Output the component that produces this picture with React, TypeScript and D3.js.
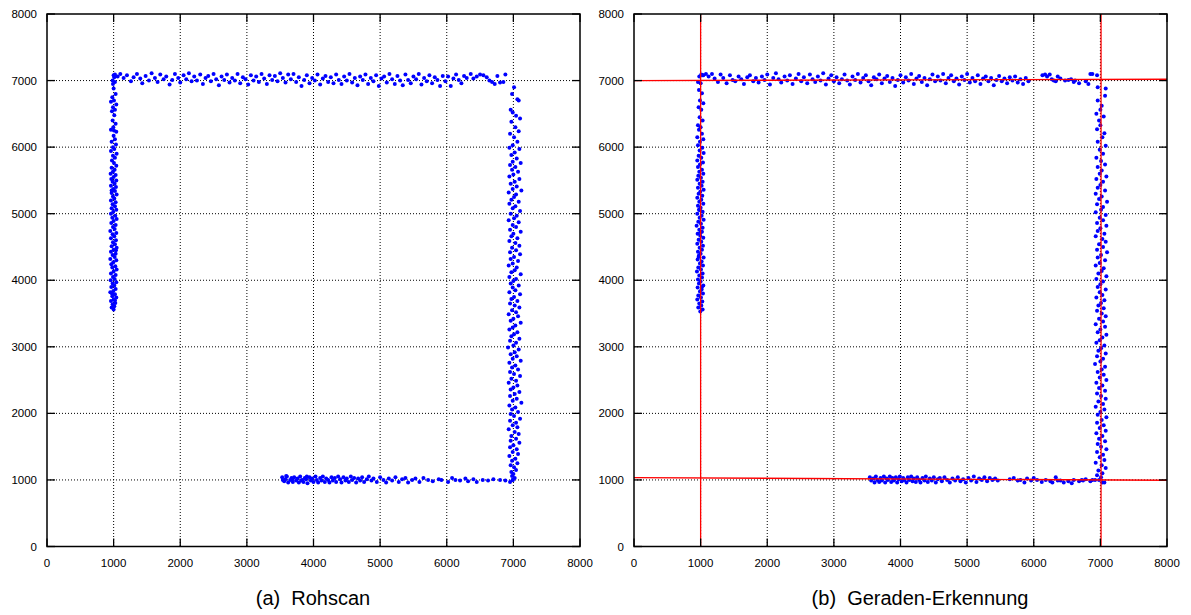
import React from "react";
import * as d3 from "d3";

// ---------- DATA ----------
const ticks = [0, 1000, 2000, 3000, 4000, 5000, 6000, 7000, 8000];
const captions = ["(a)  Rohscan", "(b)  Geraden-Erkennung"];

// Panel (a) Rohscan
const aLeft: [number, number][] = [
[1000,7080],[1010,7050],[985,7000],[1020,6980],[990,6950],[1000,6880],[1030,6800],[980,6750],[1005,6700],[960,6680],[1040,6640],[990,6600],[1020,6560],[975,6540],[1010,6480],[985,6400],[1030,6350],[995,6300],[960,6260],[1040,6230],[1000,6170],[1020,6120],[970,6080],[1035,6040],[990,6000],[1010,5970],[960,5940],[1045,5900],[990,5870],[1020,5840],[975,5800],[1005,5760],[1040,5720],[970,5690],[1015,5660],[990,5630],[955,5600],[1030,5580],[1000,5550],[965,5520],[1040,5500],[985,5480],[1015,5450],[960,5420],[1035,5400],[995,5370],[1020,5340],[970,5310],[1045,5290],[990,5260],[1010,5230],[960,5200],[1030,5170],[985,5140],[1020,5110],[970,5080],[1040,5060],[995,5030],[960,5000],[1025,4970],[980,4940],[1045,4920],[1000,4890],[965,4860],[1030,4830],[990,4800],[1015,4770],[950,4740],[1040,4710],[985,4690],[1010,4660],[960,4630],[1035,4600],[990,4570],[1020,4540],[970,4510],[1045,4490],[1000,4460],[960,4430],[1030,4400],[985,4380],[1015,4350],[950,4320],[1040,4300],[995,4270],[965,4240],[1025,4210],[980,4190],[1045,4160],[1000,4130],[960,4100],[1030,4080],[990,4050],[1015,4020],[955,4000],[1040,3970],[985,3950],[1010,3920],[965,3900],[1030,3870],[995,3840],[950,3820],[1020,3790],[980,3760],[1040,3740],[1000,3710],[960,3690],[1025,3660],[985,3640],[1010,3610],[970,3590],[1000,3560],[1020,3700],[975,3800],[1035,4450],[970,5350],[1005,6250]
];
const aTop: [number, number][] = [
[1020,7090],[1060,7060],[1100,7100],[1150,7040],[1200,7080],[1260,6990],[1300,7050],[1350,7100],[1400,7030],[1430,6960],[1480,7070],[1530,7000],[1570,7110],[1620,7040],[1660,6980],[1700,7090],[1750,7020],[1790,7060],[1840,6940],[1880,7010],[1920,7100],[1970,7040],[2000,6970],[2050,7080],[2090,7020],[2130,7110],[2170,6990],[2210,7060],[2250,7000],[2300,7090],[2340,6950],[2380,7040],[2420,7070],[2460,6990],[2500,7100],[2540,7020],[2580,6930],[2620,7060],[2660,7010],[2700,7090],[2740,6970],[2780,7040],[2820,7000],[2860,7100],[2900,6960],[2940,7050],[2980,7020],[3020,6940],[3060,7080],[3100,7000],[3140,7060],[3180,6980],[3220,7100],[3260,7030],[3300,6950],[3340,7080],[3380,7010],[3420,7070],[3460,6990],[3500,7110],[3540,7040],[3580,6970],[3620,7090],[3660,7020],[3700,7100],[3740,6980],[3780,7050],[3820,6920],[3860,7010],[3900,7080],[3940,6960],[3980,7040],[4020,7000],[4060,7090],[4100,6940],[4140,7030],[4180,7070],[4220,6980],[4260,7050],[4300,6960],[4340,7090],[4380,7010],[4420,6950],[4460,7060],[4500,7000],[4540,7100],[4580,6970],[4620,7040],[4660,6930],[4700,7060],[4740,7010],[4780,7090],[4820,6950],[4860,7040],[4900,6990],[4940,7080],[4980,6920],[5020,7030],[5060,7060],[5100,6970],[5140,7100],[5180,7020],[5220,6950],[5260,7070],[5300,7000],[5340,6930],[5380,7090],[5420,7010],[5460,6960],[5500,7060],[5540,7020],[5580,7100],[5620,6940],[5660,7040],[5700,6990],[5740,7080],[5780,6960],[5820,7050],[5860,7010],[5900,6920],[5940,7070],[5980,6990],[6020,7060],[6060,6920],[6100,7030],[6140,7090],[6180,7010],[6220,6960],[6260,7070],[6300,7040],[6360,7100],[6400,7030],[6450,7060],[6500,7090],[6550,7080],[6600,7050],[6640,7000],[6680,6980],[6720,6950],[6760,7070],[6800,6970],[6850,6980],[6880,7090]
];
const aRight: [number, number][] = [
[7010,6900],[6980,6800],[7060,6720],[7080,6700],[6960,6560],[6990,6520],[7040,6470],[7100,6430],[6970,6380],[7030,6300],[7080,6240],[6950,6200],[7010,6150],[7060,6080],[6990,6030],[6940,5990],[7090,5970],[7020,5920],[6970,5880],[7050,5830],[6990,5780],[7110,5760],[6950,5730],[7030,5700],[6980,5660],[7070,5630],[7000,5590],[6940,5560],[7090,5520],[7020,5480],[6960,5450],[7050,5410],[6990,5370],[7120,5350],[6930,5320],[7040,5290],[7010,5250],[6970,5210],[7080,5180],[6940,5150],[7030,5110],[6990,5080],[7100,5040],[6960,5000],[7050,4970],[7010,4930],[6930,4900],[7080,4870],[6990,4830],[7040,4800],[6950,4760],[7110,4730],[7000,4700],[6970,4660],[7060,4630],[6940,4590],[7030,4560],[7090,4520],[6980,4490],[7040,4450],[6950,4420],[7100,4390],[7010,4350],[6960,4320],[7070,4290],[6990,4250],[6930,4220],[7050,4190],[7020,4150],[6970,4120],[7110,4090],[6940,4050],[7040,4020],[7000,3990],[6960,3950],[7080,3920],[6990,3890],[7030,3850],[6940,3820],[7100,3790],[7010,3750],[6970,3720],[7060,3690],[6950,3650],[7020,3620],[7090,3590],[6980,3550],[7040,3520],[6930,3490],[7070,3460],[7000,3420],[6960,3390],[7110,3360],[7030,3320],[6990,3290],[6940,3260],[7060,3220],[7010,3190],[6970,3160],[7090,3120],[6950,3090],[7040,3060],[7000,3020],[6920,2990],[7080,2960],[7020,2920],[6960,2890],[7050,2860],[6990,2820],[7110,2790],[6940,2760],[7030,2720],[6980,2690],[7070,2660],[6950,2620],[7010,2590],[7100,2560],[6970,2520],[7040,2490],[6930,2460],[7060,2420],[7000,2390],[6960,2360],[7090,2320],[7020,2290],[6950,2260],[7050,2220],[6990,2190],[7120,2160],[6940,2120],[7030,2090],[6980,2060],[7070,2020],[6960,1990],[7010,1960],[7100,1920],[6950,1890],[7040,1860],[6990,1820],[7060,1790],[6930,1760],[7020,1720],[7080,1690],[6970,1660],[7040,1620],[6960,1590],[7090,1560],[7000,1520],[6950,1490],[7050,1460],[6990,1420],[7070,1390],[6940,1360],[7030,1320],[6980,1290],[7060,1250],[6960,1220],[7010,1190],[7040,1150],[6970,1120],[7000,1090],[6980,1060],[7020,1030],[6990,1000]
];
const aBottom: [number, number][] = [
[3530,1040],[3560,980],[3580,1010],[3600,1050],[3620,960],[3650,1000],[3670,1030],[3690,970],[3710,1040],[3740,990],[3760,1020],[3780,960],[3800,1050],[3830,1000],[3850,970],[3870,1030],[3890,1010],[3910,950],[3940,1040],[3960,990],[3980,1020],[4000,970],[4030,1050],[4050,1000],[4070,960],[4100,1030],[4120,990],[4140,1050],[4170,970],[4190,1020],[4220,1000],[4240,960],[4270,1040],[4290,990],[4320,1030],[4340,970],[4370,1050],[4400,1010],[4420,960],[4450,1040],[4480,990],[4500,1020],[4530,970],[4560,1050],[4580,1000],[4610,1030],[4640,960],[4670,1020],[4700,990],[4730,1040],[4760,970],[4800,1010],[4830,1050],[4870,990],[4900,1020],[4950,970],[5000,1040],[5050,1000],[5090,960],[5130,1020],[5180,990],[5230,1040],[5280,970],[5330,1010],[5380,1030],[5420,960],[5480,1000],[5530,1020],[5590,970],[5650,1030],[5720,1000],[5790,980],[5880,1010],[5920,1000],[6020,970],[6080,1030],[6130,1000],[6200,990],[6280,1020],[6320,980],[6400,1010],[6450,970],[6540,1000],[6620,990],[6700,1010],[6800,1000],[6880,990],[6950,970],[6990,1000],[3540,1000],[3590,1060],[3680,1010],[3820,990],[3900,1050]
];

// Panel (b) Geraden-Erkennung
const bLeft: [number, number][] = [
[1010,7090],[980,7060],[1030,7080],[960,6980],[1000,6960],[975,6860],[1020,6810],[990,6700],[1040,6660],[970,6600],[1010,6560],[985,6450],[1030,6400],[960,6330],[1000,6300],[975,6260],[1020,6200],[950,6150],[1040,6120],[990,6080],[960,6030],[1025,5990],[985,5950],[1045,5910],[970,5870],[1010,5840],[950,5800],[1035,5770],[990,5740],[960,5700],[1020,5660],[980,5630],[1040,5600],[965,5570],[1005,5540],[950,5510],[1030,5480],[985,5450],[1015,5420],[960,5390],[1045,5360],[995,5330],[970,5300],[1025,5270],[950,5240],[1010,5210],[980,5180],[1040,5150],[960,5120],[1000,5090],[975,5060],[1030,5030],[950,5000],[1015,4970],[985,4940],[1045,4910],[965,4880],[1005,4850],[940,4820],[1030,4790],[980,4760],[1020,4730],[955,4700],[995,4670],[1040,4640],[970,4610],[1010,4580],[950,4550],[1035,4520],[985,4490],[1020,4460],[960,4430],[1000,4400],[975,4370],[1045,4340],[955,4310],[1015,4280],[990,4250],[1035,4220],[965,4190],[1005,4160],[945,4130],[1030,4100],[980,4070],[1020,4040],[960,4010],[1000,3980],[975,3950],[1040,3920],[955,3890],[1015,3860],[990,3830],[1035,3800],[965,3770],[1005,3740],[950,3710],[1025,3680],[980,3650],[1010,3620],[965,3590],[1030,3560],[995,3530],[1000,4720],[970,4350],[1020,3900],[990,5050]
];
const bTop: [number, number][] = [
[1040,7080],[1080,7100],[1120,7060],[1170,7100],[1210,7030],[1260,6980],[1300,7090],[1340,7040],[1390,6960],[1440,7080],[1480,7010],[1520,6990],[1570,7060],[1610,7020],[1650,6950],[1700,7050],[1740,7080],[1790,6990],[1830,7040],[1870,6970],[1920,7060],[1960,7010],[2000,7090],[2040,6940],[2090,7040],[2130,7110],[2170,7020],[2210,6970],[2260,7060],[2300,7000],[2340,7080],[2380,6950],[2430,7030],[2470,7100],[2510,6990],[2550,7050],[2600,6960],[2640,7090],[2680,7020],[2720,6980],[2760,7060],[2800,7000],[2840,7110],[2880,6940],[2920,7030],[2960,7080],[3000,6990],[3040,7050],[3080,6960],[3120,7020],[3160,7090],[3200,7000],[3240,6940],[3280,7060],[3320,7010],[3360,7100],[3400,6970],[3440,7040],[3480,7080],[3520,6990],[3560,6930],[3600,7050],[3640,7020],[3680,7090],[3720,6960],[3760,7030],[3800,7070],[3840,6980],[3880,7040],[3920,6920],[3960,7010],[4000,7080],[4040,6970],[4080,7050],[4120,7000],[4160,7100],[4200,6950],[4240,7030],[4280,7070],[4320,6980],[4360,7040],[4400,6930],[4440,7020],[4480,7090],[4520,6990],[4560,7060],[4600,7000],[4640,7100],[4680,6960],[4720,7040],[4760,7080],[4800,6990],[4840,7030],[4880,6940],[4920,7060],[4960,7010],[5000,7100],[5040,6970],[5080,7040],[5120,6990],[5160,7080],[5200,6950],[5240,7030],[5280,7060],[5320,6990],[5360,7040],[5400,6930],[5440,7010],[5480,7070],[5520,6990],[5560,7030],[5600,6960],[5640,7050],[5680,7000],[5720,7060],[5760,6970],[5800,7020],[5840,6950],[5880,7040],[5920,6990],[6130,7080],[6170,7090],[6200,7060],[6240,7090],[6270,7020],[6300,7000],[6330,6990],[6360,7060],[6400,7030],[6470,7000],[6520,7010],[6560,7020],[6600,6980],[6620,7000],[6680,6960],[6780,6990],[6820,6950],[6850,7100],[6880,7100],[6950,7080]
];
const bRight: [number, number][] = [
[6960,6900],[7080,6880],[7070,6770],[6960,6700],[7020,6620],[7000,6560],[6940,6500],[7050,6460],[6980,6400],[7000,6330],[6950,6270],[7060,6210],[7030,6150],[6960,6080],[7080,6020],[6990,5960],[7040,5900],[6940,5840],[7010,5790],[7070,5740],[6960,5700],[7020,5650],[6990,5600],[7090,5560],[6940,5520],[7040,5480],[7000,5430],[6960,5390],[7070,5350],[6930,5300],[7020,5260],[6980,5220],[7100,5180],[6950,5140],[7040,5100],[7010,5060],[6930,5020],[7080,4980],[6990,4940],[7040,4900],[6950,4860],[7090,4820],[7000,4780],[6960,4740],[7060,4700],[6930,4660],[7030,4620],[7080,4580],[6980,4540],[7040,4500],[6950,4460],[7100,4420],[7010,4380],[6960,4340],[7070,4300],[6990,4260],[6930,4220],[7050,4180],[7020,4140],[6970,4100],[7090,4060],[6940,4020],[7040,3980],[7000,3940],[6960,3900],[7080,3860],[6990,3820],[7030,3780],[6940,3740],[7060,3700],[7010,3660],[6970,3620],[7050,3580],[6950,3540],[7020,3500],[7080,3460],[6980,3420],[7040,3380],[6930,3340],[7070,3300],[7000,3260],[6960,3220],[7090,3180],[7030,3140],[6990,3100],[6940,3060],[7060,3020],[7010,2980],[6970,2940],[7080,2900],[6950,2860],[7040,2820],[7000,2780],[6920,2740],[7070,2700],[7020,2660],[6960,2620],[7050,2580],[6990,2540],[7090,2500],[6940,2460],[7030,2420],[6980,2380],[7070,2340],[6950,2300],[7010,2260],[7080,2220],[6970,2180],[7040,2140],[6930,2100],[7060,2060],[7000,2020],[6960,1980],[7090,1940],[7020,1900],[6950,1860],[7050,1820],[6990,1780],[7080,1740],[6940,1700],[7030,1660],[6980,1620],[7070,1580],[6960,1540],[7010,1500],[7090,1460],[6950,1420],[7040,1380],[6990,1340],[7060,1300],[6930,1260],[7020,1220],[7080,1180],[6970,1140],[7030,1100],[6950,1070],[7010,1040],[6980,1000],[7060,960]
];
const bBottom: [number, number][] = [
[3540,1040],[3560,990],[3590,1020],[3610,960],[3630,1050],[3650,1000],[3680,970],[3700,1030],[3720,990],[3750,1050],[3770,960],[3790,1020],[3810,1000],[3840,1050],[3860,970],[3880,1030],[3900,990],[3930,1040],[3950,960],[3970,1010],[3990,1050],[4020,980],[4040,1030],[4060,1000],[4090,960],[4110,1040],[4130,1000],[4160,1050],[4180,980],[4200,1020],[4230,970],[4250,1040],[4280,1000],[4300,960],[4330,1030],[4360,990],[4380,1050],[4410,970],[4440,1020],[4470,990],[4500,1040],[4530,960],[4560,1010],[4590,1030],[4620,980],[4660,1040],[4700,1000],[4740,960],[4780,1020],[4820,990],[4860,1040],[4900,980],[4940,1010],[4980,960],[5020,1030],[5060,990],[5100,1050],[5140,970],[5180,1020],[5220,1000],[5260,1040],[5300,980],[5340,1030],[5380,1000],[5420,1020],[5460,990],[5640,1010],[5700,1030],[5760,990],[5800,1000],[5860,960],[5900,1020],[5960,990],[6000,1030],[6050,1000],[6120,970],[6180,1000],[6250,980],[6280,960],[6330,1040],[6360,990],[6400,990],[6450,960],[6520,980],[6570,950],[6600,1000],[6680,980],[6720,1000],[6740,990],[6780,1010],[6850,980],[6880,1000],[6920,1000],[7030,960]
];

// Fitted lines in panel (b): [x1, y1, x2, y2]
const fittedLines: [number, number, number, number][] = [
  [0, 7000, 8000, 7020],
  [0, 1035, 8000, 995],
  [1000, 0, 1000, 8000],
  [7010, 0, 7010, 8000],
];

const panelA = [aLeft, aTop, aRight, aBottom];
const panelB = [bLeft, bTop, bRight, bBottom];

// ---------- LAYOUT ----------
const W = 1191;
const H = 615;
const TOP = 14;
const BOTTOM = 546.5;
const FONT = "'Liberation Sans', Arial, Helvetica, sans-serif";

function Panel({ x0, x1, sets, lines, caption, capX }: {
  x0: number; x1: number; sets: [number, number][][];
  lines: [number, number, number, number][]; caption: string; capX: number;
}) {
  const xs = d3.scaleLinear().domain([0, 8000]).range([x0, x1]);
  const ys = d3.scaleLinear().domain([0, 8000]).range([BOTTOM, TOP]);
  const pts = sets.flat();
  const inner = ticks.slice(1, -1);
  return (
    <g>
      {inner.map((t) => (
        <line key={"gx" + t} x1={xs(t)} x2={xs(t)} y1={TOP} y2={BOTTOM}
          stroke="#000" strokeWidth={1} strokeDasharray="1,2" />
      ))}
      {inner.map((t) => (
        <line key={"gy" + t} x1={x0} x2={x1} y1={ys(t)} y2={ys(t)}
          stroke="#000" strokeWidth={1} strokeDasharray="1,2" />
      ))}
      {pts.map((p, i) => (
        <circle key={i} cx={xs(p[0])} cy={ys(p[1])} r={2} fill="#0000ff" />
      ))}
      {lines.map((l, i) => (
        <line key={"fl" + i}
          x1={xs(l[0])} y1={ys(l[1])}
          x2={xs(l[2])} y2={ys(l[3])}
          stroke="#ff0000" strokeWidth={1.3} />
      ))}
      {ticks.map((t) => (
        <g key={"t" + t}>
          <line x1={x0} x2={x0 + 8} y1={ys(t)} y2={ys(t)} stroke="#000" strokeWidth={1.3} />
          <line x1={x1} x2={x1 - 8} y1={ys(t)} y2={ys(t)} stroke="#000" strokeWidth={1.3} />
          <line x1={xs(t)} x2={xs(t)} y1={BOTTOM} y2={BOTTOM - 8} stroke="#000" strokeWidth={1.3} />
          <line x1={xs(t)} x2={xs(t)} y1={TOP} y2={TOP + 8} stroke="#000" strokeWidth={1.3} />
          <text x={x0 - 10} y={ys(t) + 4} textAnchor="end" fontSize={11.5}
            fontFamily={FONT} fill="#000">{t}</text>
          <text x={xs(t)} y={567} textAnchor="middle" fontSize={11.5}
            fontFamily={FONT} fill="#000">{t}</text>
        </g>
      ))}
      <rect x={x0} y={TOP} width={x1 - x0} height={BOTTOM - TOP}
        fill="none" stroke="#000" strokeWidth={1.5} />
      <text x={capX} y={605} textAnchor="middle" fontSize={20}
        fontFamily={FONT} fill="#000" style={{ whiteSpace: "pre" }}>{caption}</text>
    </g>
  );
}

export default function App() {
  return (
    <svg width={W} height={H} style={{ position: "absolute", left: 0, top: 0, background: "#fff" }}>
      <rect x={0} y={0} width={W} height={H} fill="#fff" />
      <Panel x0={47} x1={580} sets={panelA} lines={[]} caption={captions[0]} capX={313} />
      <Panel x0={634} x1={1167} sets={panelB} lines={fittedLines} caption={captions[1]} capX={920} />
    </svg>
  );
}
